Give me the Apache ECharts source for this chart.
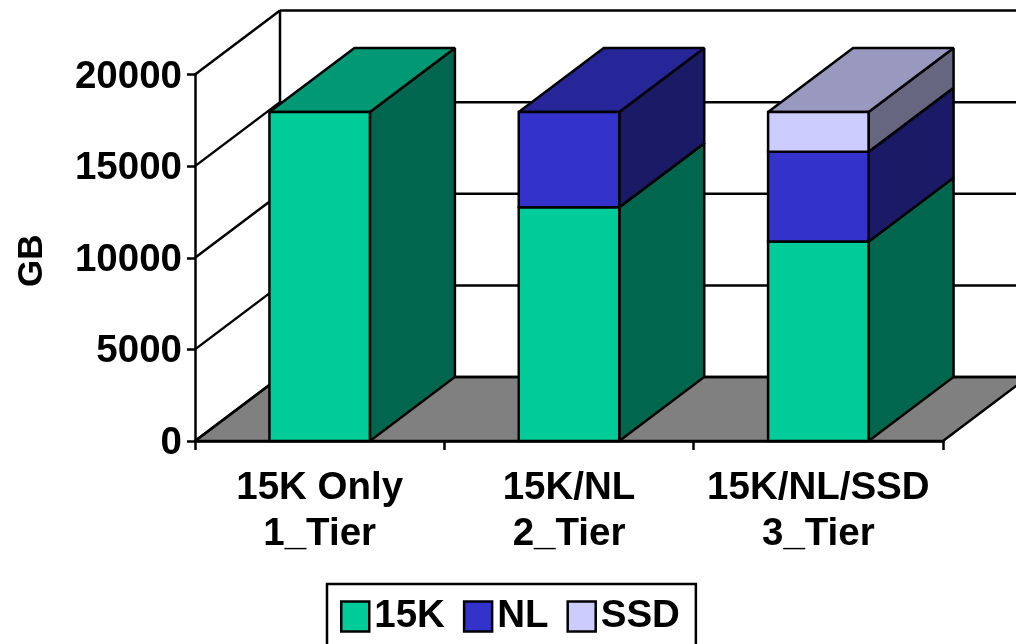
<!DOCTYPE html>
<html>
<head>
<meta charset="utf-8">
<style>html,body{margin:0;padding:0;background:#fff}#chart{width:1016px;height:644px}</style>
<script src="https://cdn.jsdelivr.net/npm/echarts@6/dist/echarts.min.js"></script>
</head>
<body>
<div id="chart"></div>
<script>
// Storage capacity per tier configuration, in GB
const categories = ['15K Only\n1_Tier', '15K/NL\n2_Tier', '15K/NL/SSD\n3_Tier'];
const seriesNames = ['15K', 'NL', 'SSD'];
const values15K = [17960, 12750, 10880];
const valuesNL = [0, 5210, 4910];
const valuesSSD = [0, 0, 2170];
const yTicks = [0, 5000, 10000, 15000, 20000];

// Face colours: front, right side (darker), top (mid tone)
const faceColors = [
  { front: '#00CC99', side: '#00664D', top: '#009973' },
  { front: '#3333CC', side: '#1A1A66', top: '#262699' },
  { front: '#CCCCFF', side: '#666680', top: '#9999BF' }
];

// Oblique projection of the chart depth, in screen pixels
const DX = 85;
const DY = -64;
const BAR_RATIO = 0.403;
const FONT = '"Liberation Sans", Arial, sans-serif';
const LINE = 2.5;
const EDGE = { stroke: '#000', lineWidth: LINE, lineJoin: 'miter', miterLimit: 2 };

function poly(points, fill) {
  return { type: 'polygon', shape: { points }, style: { fill, ...EDGE } };
}
function segment(x1, y1, x2, y2) {
  return { type: 'line', shape: { x1, y1, x2, y2 }, style: { stroke: '#000', lineWidth: LINE, fill: null } };
}

// Grey floor plane behind the bars
function renderFloor(params, api) {
  const cs = params.coordSys;
  const y0 = api.coord([0, 0])[1];
  const xl = cs.x, xr = cs.x + cs.width;
  return poly([[xl, y0], [xr, y0], [xr + DX, y0 + DY], [xl + DX, y0 + DY]], '#808080');
}

// One gridline on the left wall and the back wall
function renderGridline(params, api) {
  const cs = params.coordSys;
  const y = api.coord([0, api.value(1)])[1];
  const xl = cs.x, xr = cs.x + cs.width;
  return {
    type: 'group',
    children: [
      segment(xl, y, xl + DX, y + DY),
      segment(xl + DX, y + DY, xr + DX, y + DY)
    ]
  };
}

// Vertical edge where the left wall meets the back wall
function renderWallEdge(params, api) {
  const x = params.coordSys.x + DX;
  const y0 = api.coord([0, 0])[1] + DY;
  const y1 = api.coord([0, 20000])[1] + DY;
  return segment(x, y0, x, y1);
}

// Stacked box segment: right side, top and front faces
function renderBox(colorIdx) {
  return function (params, api) {
    const base = api.value(1);
    const top = api.value(2);
    if (top <= base) return null;
    const c = api.coord([api.value(0), base]);
    const yTop = api.coord([api.value(0), top])[1];
    const half = api.size([1, 0])[0] * BAR_RATIO / 2;
    const x0 = c[0] - half, x1 = c[0] + half, yb = c[1];
    const col = faceColors[colorIdx];
    return {
      type: 'group',
      children: [
        poly([[x1, yb], [x1 + DX, yb + DY], [x1 + DX, yTop + DY], [x1, yTop]], col.side),
        poly([[x0, yTop], [x1, yTop], [x1 + DX, yTop + DY], [x0 + DX, yTop + DY]], col.top),
        poly([[x0, yb], [x1, yb], [x1, yTop], [x0, yTop]], col.front)
      ]
    };
  };
}

const stacks = [values15K, valuesNL, valuesSSD];
const running = categories.map(() => 0);
const boxSeries = stacks.map((vals, s) => {
  const data = vals.map((v, i) => {
    const row = [i, running[i], running[i] + v];
    running[i] += v;
    return row;
  });
  return {
    name: seriesNames[s],
    type: 'custom',
    renderItem: renderBox(s),
    encode: { x: 0, y: [1, 2] },
    itemStyle: { color: faceColors[s].front },
    data,
    z: 4 + s
  };
});

const chart = echarts.init(document.getElementById('chart'), null, { renderer: 'canvas' });
chart.setOption({
  animation: false,
  backgroundColor: '#fff',
  textStyle: { fontFamily: FONT },
  grid: { left: 195, right: 73, top: 74.5, bottom: 203, outerBoundsMode: 'none' },
  legend: {
    left: 327,
    top: 584,
    orient: 'horizontal',
    data: seriesNames.map((name, i) => ({
      name,
      icon: 'rect',
      itemStyle: { color: faceColors[i].front, borderColor: '#000', borderWidth: 2.5 }
    })),
    itemWidth: 28,
    itemHeight: 30,
    itemGap: 18,
    padding: [13, 16, 30, 13],
    borderColor: '#000',
    borderWidth: 2.5,
    backgroundColor: '#fff',
    selectedMode: false,
    textStyle: { fontFamily: FONT, fontWeight: 'bold', fontSize: 38.5, color: '#000' }
  },
  xAxis: {
    type: 'category',
    data: categories,
    z: 8,
    axisLine: { lineStyle: { color: '#000', width: LINE } },
    axisTick: { show: true, alignWithLabel: false, length: 9, lineStyle: { color: '#000', width: LINE } },
    axisLabel: {
      color: '#000', fontFamily: FONT, fontWeight: 'bold', fontSize: 38.5,
      lineHeight: 46, margin: 24, interval: 0
    }
  },
  yAxis: {
    type: 'value',
    min: 0,
    max: 20000,
    interval: 5000,
    z: 8,
    name: 'GB',
    nameLocation: 'middle',
    nameRotate: 90,
    nameGap: 145,
    nameTextStyle: { color: '#000', fontFamily: FONT, fontWeight: 'bold', fontSize: 35, padding: [0, 6, 0, 0] },
    splitLine: { show: false },
    axisLine: { show: true, lineStyle: { color: '#000', width: LINE } },
    axisTick: { show: true, length: 8, lineStyle: { color: '#000', width: LINE } },
    axisLabel: {
      color: '#000', fontFamily: FONT, fontWeight: 'bold', fontSize: 38.5, margin: 13,
      verticalAlign: 'bottom',
      padding: [0, 0, -22, 0],
      formatter: v => String(v)
    }
  },
  series: [
    { name: 'floor', type: 'custom', renderItem: renderFloor, data: [[0, 0]], encode: { x: 0, y: 1 }, z: 1 },
    { name: 'grid', type: 'custom', renderItem: renderGridline, data: yTicks.map(v => [0, v]), encode: { x: 0, y: 1 }, z: 2 },
    { name: 'edge', type: 'custom', renderItem: renderWallEdge, data: [[0, 0]], encode: { x: 0, y: 1 }, z: 2 },
    ...boxSeries
  ]
});
</script>
</body>
</html>
